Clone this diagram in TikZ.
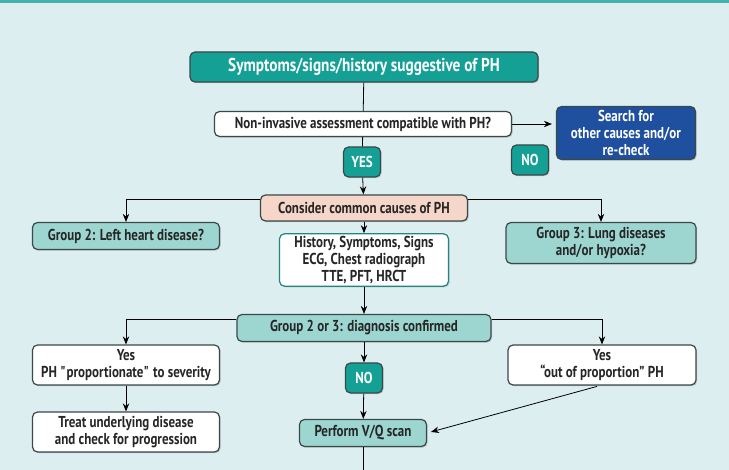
\documentclass[tikz,border=0pt]{standalone}
\usepackage{fontspec}
\setmainfont{PT Sans}[FakeStretch=0.82]
\usetikzlibrary{arrows.meta,shadows}
\definecolor{bgcol}{HTML}{DDEEF0}
\definecolor{teal1}{HTML}{15A096}
\definecolor{teal2}{HTML}{9DD6D1}
\definecolor{pink1}{HTML}{F7D6CA}
\definecolor{blue1}{HTML}{1F4F9F}
\definecolor{edge1}{HTML}{3A4849}
\begin{document}
\begin{tikzpicture}[x=0.5pt, y=-0.5pt, >={Stealth[length=4pt,width=3.2pt]},
  box/.style = {draw=edge1, line width=0.6pt, rounded corners=2.5pt, align=center, inner sep=1pt,
    font=\bfseries\fontsize{7.9}{8.7}\selectfont, text=black!85,
    drop shadow={shadow xshift=0.6pt, shadow yshift=-0.6pt, opacity=0.35}},
  dark/.style = {box, fill=teal1, text=white},
  light/.style = {box, fill=teal2},
  plain/.style = {box, fill=white},
  ans/.style = {dark, minimum width=18.5pt, minimum height=15pt}]
\fill[bgcol] (0,0) rectangle (729,470);
\fill[teal1!80] (0,0) rectangle (729,3);
\useasboundingbox (0,0) rectangle (729,470);
\node[dark, minimum width=174pt, minimum height=15pt, font=\bfseries\fontsize{9.3}{10}\selectfont] (symp) at (364,67) {Symptoms/signs/history suggestive of PH};
\node[plain, minimum width=148.5pt, minimum height=12.5pt] (nonin) at (363,124) {Non-invasive assessment compatible with PH?};
\node[box, fill=blue1, text=white, minimum width=69.5pt, minimum height=26.5pt] (search) at (626,133) {Search for\\other causes and/or\\re-check};
\node[ans] (yes) at (362,162) {YES};
\node[ans] (no1) at (530,160) {NO};
\node[box, fill=pink1, minimum width=103.5pt, minimum height=13pt] (cons) at (364,208) {Consider common causes of PH};
\node[light, minimum width=93.5pt, minimum height=13.5pt] (grp2) at (126,236) {Group 2: Left heart disease?};
\node[light, minimum width=95pt, minimum height=20.5pt] (grp3) at (601,243) {Group 3: Lung diseases\\and/or hypoxia?};
\node[plain, draw=teal1!70!edge1, minimum width=84.5pt, minimum height=20.5pt] (hist) at (364,260) {History, Symptoms, Signs\\ECG, Chest radiograph\\TTE, PFT, HRCT};
\node[light, minimum width=127pt, minimum height=13.5pt] (conf) at (364,328) {Group 2 or 3: diagnosis confirmed};
\node[plain, minimum width=93.5pt, minimum height=20pt] (yesp) at (126,365) {Yes\\PH \textquotedbl proportionate\textquotedbl{} to severity};
\node[plain, minimum width=94pt, minimum height=20pt] (yeso) at (602,365) {Yes\\``out of proportion'' PH};
\node[ans] (no2) at (364,378) {NO};
\node[plain, minimum width=93.5pt, minimum height=20pt] (treat) at (126,432) {Treat underlying disease\\and check for progression};
\node[light, minimum width=63.5pt, minimum height=13.5pt] (vq) at (363,433) {Perform V/Q scan};
\coordinate (end) at (363,470);
\draw (symp) -- (nonin);
\draw[->] (nonin.east) -- ([xshift=-2pt]nonin.east -| search.west);
\draw (nonin) -- (yes);
\draw[->] (yes) -- (cons);
\draw[->] ([yshift=-2.5pt]cons.north west) -| (grp2);
\draw[->] ([yshift=-2.5pt]cons.north east) -| (grp3);
\draw[->] (cons) -- (hist);
\draw[->] (hist) -- (conf);
\draw[->] ([yshift=-3pt]conf.north west) -| (yesp);
\draw[->] ([yshift=-3pt]conf.north east) -| (yeso);
\draw[->] (conf) -- (no2);
\draw[->] (no2) -- (vq);
\draw[->] (yesp) -- (treat);
\draw[->, shorten <=1.5pt, shorten >=2pt] ([xshift=-1pt]yeso.south) -- (vq.east);
\draw (vq) -- (end);
\end{tikzpicture}
\end{document}
